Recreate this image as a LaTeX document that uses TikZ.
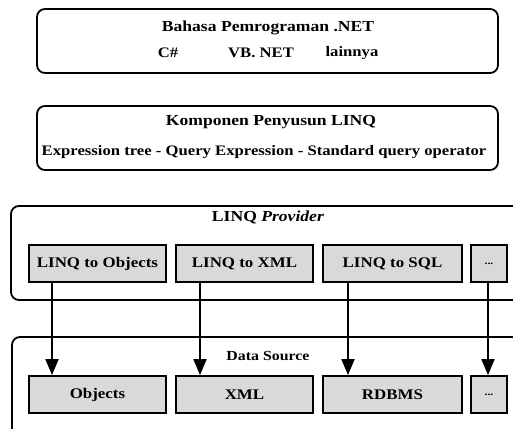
\documentclass[tikz,border=0pt]{standalone}
\usepackage{fontspec}
\setmainfont{Liberation Serif}[FakeStretch=1.15]
\usetikzlibrary{arrows.meta}
\definecolor{boxgray}{HTML}{D9D9D9}
\tikzset{
  outerbox/.style={draw, line width=1.8pt, rounded corners=8pt, inner sep=0pt},
  innerbox/.style={draw, line width=1.8pt, fill=boxgray, inner sep=0pt, minimum height=37pt, font=\fontsize{14.7}{16}\selectfont\bfseries},
  ttl/.style={inner sep=0pt, font=\fontsize{15.3}{17}\selectfont\bfseries},
  sub/.style={inner sep=0pt, font=\fontsize{14.5}{16}\selectfont\bfseries},
  arr/.style={line width=1.8pt, -{Triangle[length=16pt,width=13pt]}}
}
\begin{document}
\begin{tikzpicture}[x=1pt,y=-1pt]
\useasboundingbox (0,0) rectangle (513,428);
\clip (0,0) rectangle (513,428);
% top box
\node[outerbox, minimum width=461pt, minimum height=64pt] (lang) at (267.5,41) {};
\node[ttl] (langt) at (268,28) {Bahasa Pemrograman .NET};
\node[sub] (cs) at (168,53) {C\#};
\node[sub] (vb) at (261,53) {VB. NET};
\node[sub] (ln) at (352,53) {lainnya};
% second box
\node[outerbox, minimum width=461pt, minimum height=64pt] (comp) at (267.5,138) {};
\node[ttl] (compt) at (271,122) {Komponen Penyusun LINQ};
\node[sub] (comps) at (264,152) {Expression tree - Query Expression - Standard query operator};
% provider box
\node[outerbox, minimum width=519pt, minimum height=94pt] (prov) at (270.5,253) {};
\node[ttl] (provt) at (268,217) {LINQ \textit{Provider}};
% data source box
\node[outerbox, minimum width=518pt, minimum height=113pt] (ds) at (271,393.5) {};
\node[inner sep=0pt, font=\fontsize{13.8}{15}\selectfont\bfseries] (dst) at (268,356) {Data Source};
% provider inner boxes
\node[innerbox, minimum width=137pt] (p1) at (97.5,263.5) {LINQ to Objects};
\node[innerbox, minimum width=137pt] (p2) at (244.5,263.5) {LINQ to XML};
\node[innerbox, minimum width=139pt] (p3) at (392.5,263.5) {LINQ to SQL};
\node[innerbox, minimum width=36pt] (p4) at (489,263.5) {\fontsize{10}{11}\selectfont ...};
% data inner boxes
\node[innerbox, minimum width=137pt] (d1) at (97.5,394.5) {Objects};
\node[innerbox, minimum width=137pt] (d2) at (244.5,394.5) {XML};
\node[innerbox, minimum width=139pt] (d3) at (392.5,394.5) {RDBMS};
\node[innerbox, minimum width=36pt] (d4) at (489,394.5) {\fontsize{10}{11}\selectfont ...};
% arrows
\coordinate (a1) at (52,0);
\coordinate (a2) at (200,0);
\coordinate (a3) at (348,0);
\coordinate (a4) at (488,0);
\draw[arr] (p1.south -| a1) -- (d1.north -| a1);
\draw[arr] (p2.south -| a2) -- (d2.north -| a2);
\draw[arr] (p3.south -| a3) -- (d3.north -| a3);
\draw[arr] (p4.south -| a4) -- (d4.north -| a4);
\end{tikzpicture}
\end{document}
